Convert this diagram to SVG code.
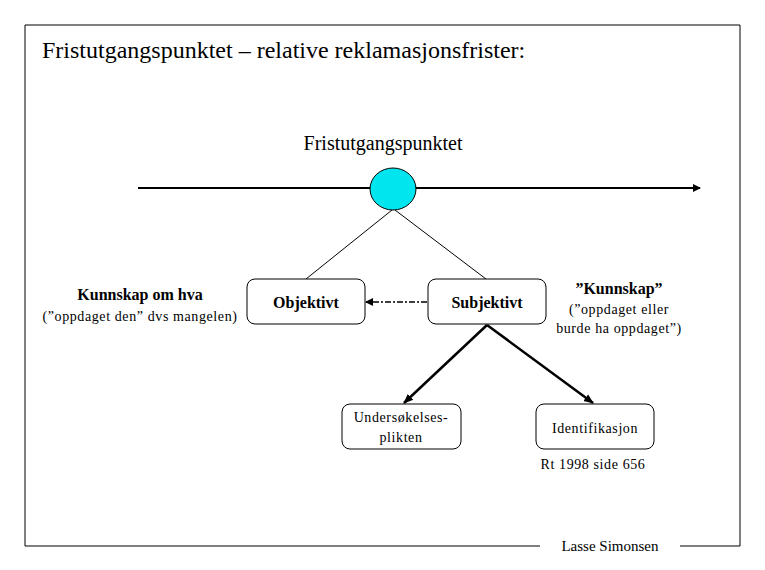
<svg xmlns="http://www.w3.org/2000/svg" width="765" height="570" viewBox="0 0 765 570">
<style>
text{font-family:"Liberation Serif","Times New Roman",serif;fill:#000}
.box{fill:#fff;stroke:#000;stroke-width:1}
.b{font-family:"Liberation Serif",serif;font-weight:bold;font-size:16px}
.s{font-family:"Liberation Serif",serif;font-size:14px;letter-spacing:0.6px}
</style>
<defs>
<marker id="ah" markerWidth="8" markerHeight="8" refX="7" refY="4" orient="auto" markerUnits="userSpaceOnUse"><path d="M0,0 L8,4 L0,8 z" fill="#000"/></marker>
<marker id="ah2" markerWidth="10" markerHeight="10" refX="9" refY="5" orient="auto" markerUnits="userSpaceOnUse"><path d="M0,1 L10,5 L0,9 z" fill="#000"/></marker>
</defs>
<rect width="765" height="570" fill="#fff"/>
<path d="M540,546 H25 V25 H740 V546 H680" fill="none" stroke="#000" stroke-width="1"/>
<text x="42" y="58" font-size="24" font-family="Liberation Serif, serif">Fristutgangspunktet – relative reklamasjonsfrister:</text>
<text x="383" y="150" font-size="20" text-anchor="middle" font-family="Liberation Serif, serif">Fristutgangspunktet</text>
<text x="610" y="551" font-size="15" text-anchor="middle" font-family="Liberation Serif, serif">Lasse Simonsen</text>
<g id="connectors" stroke="#000" fill="none">
<line x1="138" y1="188" x2="700" y2="188" stroke-width="2" marker-end="url(#ah)"/>
<line x1="392" y1="210" x2="306" y2="279"/>
<line x1="395" y1="210" x2="486" y2="279"/>
<line x1="427" y1="302" x2="366" y2="302" stroke-width="1.5" stroke-dasharray="6,2,2,2" marker-end="url(#ah)"/>
<line x1="487" y1="325" x2="404" y2="403" stroke-width="2.5" marker-end="url(#ah2)"/>
<line x1="487" y1="325" x2="593" y2="403" stroke-width="2.5" marker-end="url(#ah2)"/>
</g>
<g id="origin"><ellipse cx="393" cy="189" rx="23" ry="21" fill="#00e5ee" stroke="#000"/></g>
<g id="objektivt"><rect class="box" x="247" y="279" width="118" height="45" rx="8"/><text class="b" x="306" y="308" text-anchor="middle">Objektivt</text></g>
<g id="subjektivt"><rect class="box" x="428" y="279" width="118" height="45" rx="8"/><text class="b" x="487" y="308" text-anchor="middle">Subjektivt</text></g>
<g id="undersokelse"><rect class="box" x="342" y="404" width="119" height="45" rx="8"/><text class="s" x="401" y="422" text-anchor="middle">Undersøkelses-</text><text class="s" x="401" y="442" text-anchor="middle">plikten</text></g>
<g id="identifikasjon"><rect class="box" x="536" y="404" width="118" height="45" rx="8"/><text class="s" x="595" y="433" text-anchor="middle">Identifikasjon</text></g>
<g id="labels">
<text class="b" x="140" y="300" text-anchor="middle">Kunnskap om hva</text>
<text class="s" x="140" y="321" text-anchor="middle">(”oppdaget den” dvs mangelen)</text>
<text class="b" x="619" y="294" text-anchor="middle">”Kunnskap”</text>
<text class="s" x="619" y="314" text-anchor="middle">(”oppdaget eller</text>
<text class="s" x="619" y="333" text-anchor="middle">burde ha oppdaget”)</text>
<text class="s" x="593" y="469" text-anchor="middle">Rt 1998 side 656</text>
</g>
</svg>
